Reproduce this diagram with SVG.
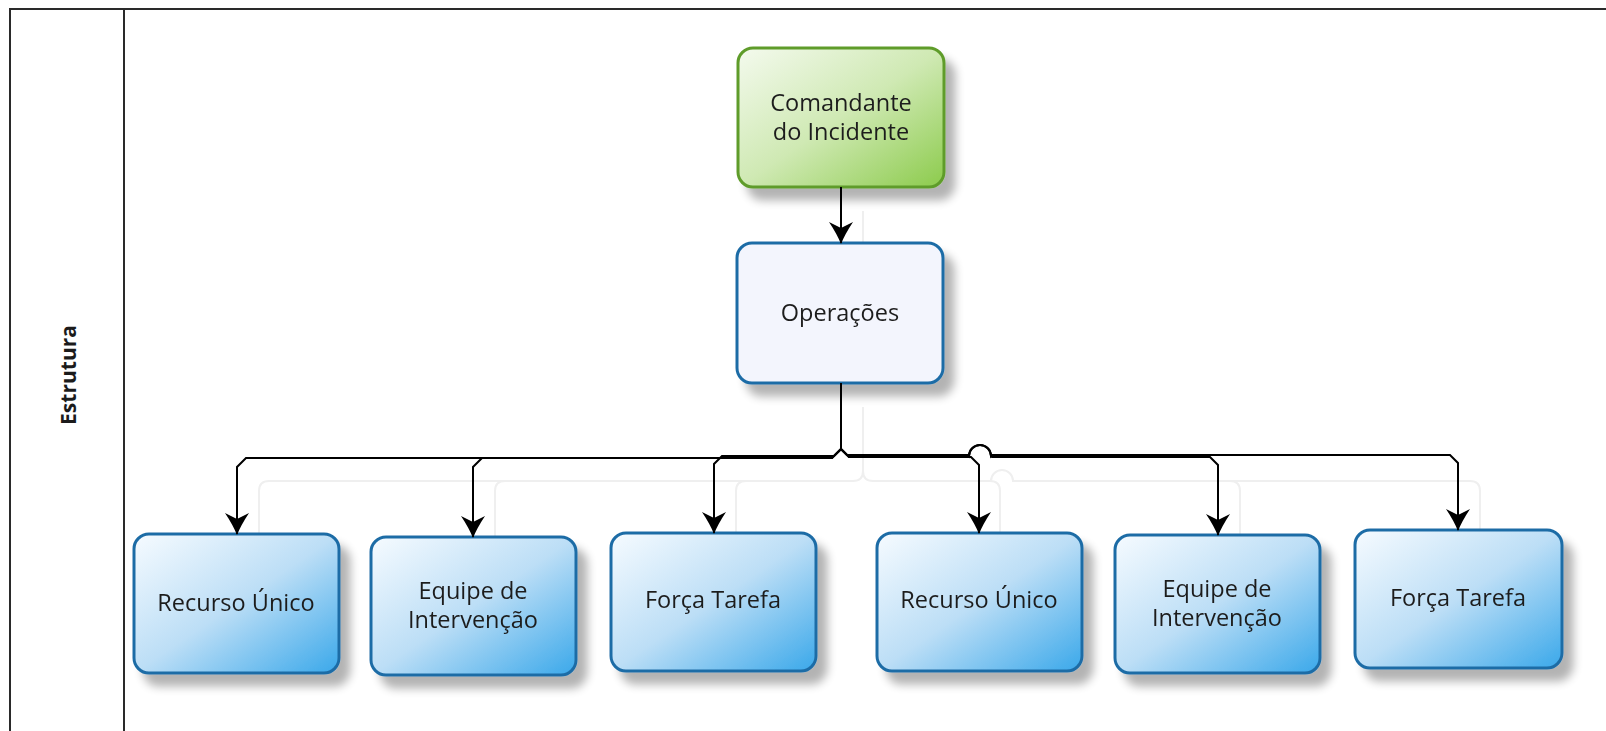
<svg xmlns="http://www.w3.org/2000/svg" width="1606" height="731" viewBox="0 0 1606 731">
  <defs>
    <style>
      .frame { fill: none; stroke: #2a2a2a; stroke-width: 2; }
      .lane { font-family: "Open Sans", "Noto Sans", "DejaVu Sans", sans-serif; font-size: 21px; font-weight: bold; fill: #1b1b1b; }
      .box { stroke-width: 3; }
      .green { fill: url(#gradGreen); stroke: #5e9c2a; }
      .pale { fill: #f3f5fd; stroke: #1f6ca6; }
      .blue { fill: url(#gradBlue); stroke: #1f6ca6; }
      .label { font-family: "Open Sans", "Noto Sans", "DejaVu Sans", sans-serif; font-size: 23.5px; fill: #1e1e1e; text-anchor: middle; }
      .wire { fill: none; stroke: #000; stroke-width: 2; stroke-linejoin: miter; }
      .ghost { fill: none; stroke: #efefef; stroke-width: 2; }
      .head { fill: #000; stroke: none; }
    </style>
    <linearGradient id="gradGreen" x1="0" y1="0" x2="1" y2="1">
      <stop offset="0" stop-color="#f4faee"/>
      <stop offset="0.5" stop-color="#cfe9b3"/>
      <stop offset="1" stop-color="#8ccb4c"/>
    </linearGradient>
    <linearGradient id="gradBlue" x1="0" y1="0" x2="1" y2="1">
      <stop offset="0" stop-color="#f6fbff"/>
      <stop offset="0.5" stop-color="#bcdef6"/>
      <stop offset="1" stop-color="#3aa8ea"/>
    </linearGradient>
    <filter id="shadow" x="-10%" y="-10%" width="130%" height="140%">
      <feGaussianBlur in="SourceAlpha" stdDeviation="5"/>
      <feOffset dx="10" dy="12" result="off"/>
      <feComponentTransfer>
        <feFuncA type="linear" slope="0.3"/>
      </feComponentTransfer>
      <feMerge>
        <feMergeNode/>
        <feMergeNode in="SourceGraphic"/>
      </feMerge>
    </filter>
    <marker id="arrow" markerUnits="userSpaceOnUse" markerWidth="22" markerHeight="26" refX="21" refY="13" orient="auto" viewBox="0 0 22 26">
      <path class="head" d="M22,13 Q12,9 0,1 L6,13 L0,25 Q12,17 22,13 Z"/>
    </marker>
  </defs>

  <!-- swimlane frame -->
  <g id="lane">
    <path class="frame" d="M10,731 V9 H1606 M124,9 V731"/>
    <text class="lane" transform="translate(76,375) rotate(-90)" text-anchor="middle">Estrutura</text>
  </g>

  <!-- faint offset trace of the connectors -->
  <g id="connector-trace" class="ghost" transform="translate(22,24)">
    <path d="M841,187 V243"/>
    <path d="M841,383 V447 Q841,457 831,457 H247 Q237,457 237,467 V540"/>
    <path d="M483,457 Q473,457 473,467 V540"/>
    <path d="M724,457 Q714,457 714,467 V540"/>
    <path d="M841,447 Q841,457 851,457 H969 A11,11 0 0 1 991,457 H1448 Q1458,457 1458,467 V540"/>
    <path d="M968,457 Q978,457 978,467 V540"/>
    <path d="M1208,457 Q1218,457 1218,467 V540"/>
  </g>

  <!-- nodes -->
  <g id="comandante" filter="url(#shadow)">
    <rect class="box green" x="738" y="48" width="206" height="139" rx="15"/>
    <text class="label" x="841" y="111">Comandante</text>
    <text class="label" x="841" y="140">do Incidente</text>
  </g>
  <g id="operacoes" filter="url(#shadow)">
    <rect class="box pale" x="737" y="243" width="206" height="140" rx="15"/>
    <text class="label" x="840" y="321">Operações</text>
  </g>
  <g id="recurso-unico-1" filter="url(#shadow)">
    <rect class="box blue" x="134" y="534" width="205" height="139" rx="15"/>
    <text class="label" x="236" y="611">Recurso Único</text>
  </g>
  <g id="equipe-intervencao-1" filter="url(#shadow)">
    <rect class="box blue" x="371" y="537" width="205" height="138" rx="15"/>
    <text class="label" x="473" y="599">Equipe de</text>
    <text class="label" x="473" y="628">Intervenção</text>
  </g>
  <g id="forca-tarefa-1" filter="url(#shadow)">
    <rect class="box blue" x="611" y="533" width="205" height="138" rx="15"/>
    <text class="label" x="713" y="608">Força Tarefa</text>
  </g>
  <g id="recurso-unico-2" filter="url(#shadow)">
    <rect class="box blue" x="877" y="533" width="205" height="138" rx="15"/>
    <text class="label" x="979" y="608">Recurso Único</text>
  </g>
  <g id="equipe-intervencao-2" filter="url(#shadow)">
    <rect class="box blue" x="1115" y="535" width="205" height="138" rx="15"/>
    <text class="label" x="1217" y="597">Equipe de</text>
    <text class="label" x="1217" y="626">Intervenção</text>
  </g>
  <g id="forca-tarefa-2" filter="url(#shadow)">
    <rect class="box blue" x="1355" y="530" width="207" height="138" rx="15"/>
    <text class="label" x="1458" y="606">Força Tarefa</text>
  </g>

  <!-- connectors -->
  <g id="connectors" class="wire" marker-end="url(#arrow)">
    <path d="M841,187 V243"/>
    <path d="M841,383 V449 L832,458 H246 L237,467 V534"/>
    <path d="M841,383 V449 L832,458 H482 L473,467 V537"/>
    <path d="M841,383 V449 L834,456 H722 L714,464 V533"/>
    <path d="M841,383 V449 L849,457 H971 L979,465 V533"/>
    <path d="M841,383 V449 L849,457 H968 L969,456 A11,11 0 0 1 991,456 L992,457 H1210 L1218,465 V535"/>
    <path d="M841,383 V449 L847,455 H968 L969,456 A11,11 0 0 1 991,456 L992,455 H1450 L1458,463 V530"/>
  </g>
</svg>
